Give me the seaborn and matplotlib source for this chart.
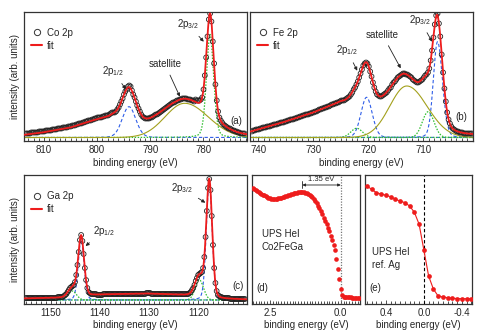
import matplotlib
matplotlib.use("Agg")
import matplotlib.pyplot as plt
from matplotlib.lines import Line2D
from matplotlib.ticker import MultipleLocator, FormatStrFormatter
import numpy as np
import seaborn as sns

RED = "#ee1c1c"
BLUE = "#2f5ee8"
GREEN = "#2fbf2f"
OLIVE = "#a3a01c"

# XPS spectra, 0.25 eV steps starting at the given binding energy
STEP = 0.25
CO_E0 = 772.2
co_i = [4, 4, 4, 4, 5, 5, 6, 6, 7, 7,
        8, 9, 9, 10, 11, 12, 13, 15, 17, 20,
        26, 37, 53, 74, 96, 116, 124, 118, 101, 80,
        62, 48, 40, 38, 37, 37, 37, 38, 36, 37,
        37, 38, 38, 38, 39, 39, 39, 39, 38, 38,
        37, 37, 36, 35, 35, 34, 33, 32, 31, 30,
        29, 28, 27, 26, 25, 24, 23, 23, 22, 21,
        20, 20, 19, 19, 19, 19, 20, 21, 23, 26,
        29, 32, 36, 40, 43, 47, 51, 52, 51, 48,
        46, 43, 39, 36, 33, 30, 28, 26, 25, 25,
        25, 24, 23, 22, 22, 22, 21, 21, 20, 20, 20, 20,
        19, 19, 18, 18, 17, 17, 17, 16, 16, 15, 15, 14, 14, 14, 13, 13, 12, 12, 12, 11,
        11, 11, 10, 10, 10, 10, 9, 9, 9, 9, 8, 8, 8, 8, 7, 7, 7, 7, 7, 6,
        6, 6, 6, 6, 5, 5, 5, 5, 5, 5, 4, 4, 4, 4]
FE_E0 = 701.15
fe_i = [4, 4, 4, 4, 4, 4, 4, 5, 5, 5, 6, 6, 7, 8, 9, 11, 14, 18, 25, 36, 49, 65, 83, 101,
        114, 124, 122, 113, 100, 87, 77, 69, 65, 63, 62, 60, 58, 57, 56, 55, 55, 56, 57, 58,
        60, 61, 62, 63, 63, 64, 64, 63, 62, 61, 60, 58, 56, 55, 53, 50, 49, 47, 45, 44, 43,
        42, 41, 41, 42, 43, 46, 50, 55, 61, 66, 71, 74, 75, 74, 72, 68, 64, 60, 56, 53, 50,
        48, 45, 43, 41, 40, 39, 38, 37, 37, 37, 36, 35, 35, 34, 34, 33, 33, 32, 31, 31, 30,
        30, 29, 29, 28, 28, 27, 26, 26, 25, 25, 24, 24, 23, 23, 23, 22, 22, 21, 21, 20, 20,
        19, 19, 18, 18, 18, 17, 17, 16, 16, 15, 15, 15, 14, 14, 13, 13, 13, 12, 12, 11, 11,
        11, 10, 10, 10, 9, 9, 8, 8, 8, 7, 7, 6]
GA_E0 = 1110.55
ga_i = [1, 1, 1, 1, 1, 1, 1, 1, 1, 1, 1, 1, 1, 2, 2, 2, 2, 2, 2, 3, 3, 4, 5, 9, 17, 32, 55,
        84, 110, 121, 112, 89, 63, 43, 32, 28, 27, 26, 25, 22, 19, 15, 12, 10, 8, 7, 6, 6,
        6, 6, 6, 6, 6, 6, 6, 6, 6, 6, 6, 6, 6, 6, 6, 6, 6, 6, 6, 6, 6, 6, 6, 6, 6, 6, 6, 6,
        6, 7, 7, 7, 7, 6, 6, 6, 6, 6, 6, 6, 6, 6, 6, 6, 6, 6, 6, 6, 6, 6, 6, 6, 6, 6, 6, 6,
        6, 6, 6, 6, 6, 6, 6, 6, 6, 6, 6, 6, 5, 5, 5, 5, 5, 6, 6, 6, 6, 6, 7, 8, 12, 20, 32,
        46, 59, 65, 60, 48, 35, 25, 18, 15, 14, 13, 12, 10, 8, 6, 5, 4, 3, 3, 3, 3, 3, 2, 2,
        2, 2, 2, 2, 2, 2, 2, 2, 2, 2, 2, 2, 2, 2, 2, 2, 2, 2, 2, 2, 2, 2, 2, 2]

# peak fit components: centre, fwhm (high BE side), fwhm (low BE side), height, lorentz share
co_center = [794.0, 778.7, 783.5]
co_fwhm_hi = [3.0, 1.6, 8.7]
co_fwhm_lo = [3.0, 1.6, 10.4]
co_height = [30.8, 103.0, 34.2]
co_eta = [0.1, 0.2, 0.0]
co_kind = ["blue", "green", "olive"]
co_bg_e = [814, 810, 805, 800, 797, 795.5, 794, 792.5, 791.3, 789, 787, 785, 783, 781, 779, 776, 772]
co_bg_v = [2.5, 5.2, 10.0, 18.3, 22.0, 19.5, 19.0, 15.5, 12.8, 10.8, 7.5, 4.5, 3.8, 3.0, 2.0, 2.5, 2.0]

fe_center = [707.4, 720.3, 709.1, 722.1, 713.0]
fe_fwhm_hi = [1.8, 2.4, 2.5, 2.5, 7.3]
fe_fwhm_lo = [2.1, 2.4, 2.5, 2.5, 8.7]
fe_height = [95.8, 40.2, 25.8, 9.2, 51.5]
fe_eta = [0.1, 0.1, 0.0, 0.0, 0.0]
fe_kind = ["blue", "blue", "green", "green", "olive"]
fe_bg_e = [742, 735, 730, 725, 722.5, 720.5, 718, 716, 713.6, 711, 709, 707, 705, 701]
fe_bg_v = [5.0, 16.0, 25.0, 36.0, 36.0, 30.0, 23.5, 17.0, 13.0, 5.0, 1.0, 3.0, 3.0, 3.0]

ga_center = [1117.8, 1143.8, 1119.8, 1145.6]
ga_fwhm_hi = [1.4, 1.4, 2.0, 2.0]
ga_fwhm_lo = [1.4, 1.4, 2.0, 2.0]
ga_height = [118.0, 60.0, 20.0, 9.0]
ga_eta = [0.15, 0.15, 0.0, 0.0]
ga_kind = ["blue", "blue", "green", "green"]
ga_bg_e = [1156, 1147, 1143.8, 1141, 1135, 1130, 1125, 1122, 1120, 1117, 1110]
ga_bg_v = [1.5, 2.5, 4.0, 5.0, 6.0, 6.5, 5.5, 5.0, 4.0, 1.5, 0.5]

# UPS valence band spectra
ups_e = [3.10, 3.05, 3.00, 2.95, 2.90, 2.85, 2.80, 2.75, 2.70, 2.65, 2.60, 2.55, 2.50, 2.45,
         2.40, 2.35, 2.30, 2.25, 2.20, 2.15, 2.10, 2.05, 2.00, 1.95, 1.90, 1.85, 1.80, 1.75,
         1.70, 1.65, 1.60, 1.55, 1.50, 1.45, 1.40, 1.35, 1.30, 1.25, 1.20, 1.15, 1.10, 1.05,
         1.00, 0.95, 0.90, 0.85, 0.80, 0.75, 0.70, 0.65, 0.60, 0.55, 0.50, 0.45, 0.40, 0.35,
         0.30, 0.25, 0.20, 0.15, 0.10, 0.05, 0.00, -0.05, -0.10, -0.15, -0.20, -0.25, -0.30,
         -0.35, -0.40, -0.45, -0.50, -0.55, -0.60, -0.65]
ups_i = [114.5, 113.5, 112.5, 111.5, 110.5, 109.7, 109.0, 108.2, 107.5, 106.7, 106.0, 105.2,
         104.5, 104.0, 103.7, 103.7, 104.0, 104.2, 104.5, 104.8, 105.0, 105.5, 106.0, 106.5,
         107.0, 107.5, 108.0, 108.5, 109.0, 109.5, 110.0, 110.4, 110.7, 111.0, 111.0, 111.0,
         110.7, 110.2, 109.7, 109.0, 108.0, 107.0, 105.5, 104.0, 102.0, 99.5, 97.0, 94.5,
         91.5, 88.5, 85.0, 82.0, 78.5, 75.0, 71.5, 67.5, 63.0, 58.0, 53.0, 44.0, 34.0, 24.0,
         14.0, 8.0, 6.5, 6.2, 6.0, 5.8, 5.7, 5.6, 5.5, 5.5, 5.4, 5.4, 5.3, 5.3]

ag_e = [0.60, 0.55, 0.50, 0.45, 0.40, 0.35, 0.30, 0.25, 0.20, 0.15, 0.10, 0.05, 0.00,
        -0.05, -0.10, -0.15, -0.20, -0.25, -0.30, -0.35, -0.40, -0.45, -0.50]
ag_i = [117.0, 113.7, 110.3, 109.0, 107.7, 106.3, 103.7, 102.0, 100.3, 97.0, 90.7, 78.7,
        53.0, 27.0, 14.0, 7.0, 6.0, 5.3, 4.7, 4.5, 4.3, 4.3, 4.3]

VB_SHIFT = 1.35

sns.set_theme(style="ticks")
plt.rcParams["font.family"] = ["Liberation Sans", "DejaVu Sans"]
plt.rcParams["axes.unicode_minus"] = False
plt.rcParams["mathtext.fontset"] = "custom"
plt.rcParams["mathtext.rm"] = "Liberation Sans"
plt.rcParams["mathtext.it"] = "Liberation Sans"

FS = 7
STYLE = {
    "blue": dict(color=BLUE, lw=0.8, linestyle=(0, (3, 2))),
    "green": dict(color=GREEN, lw=0.9, linestyle=(0, (1.2, 1.2))),
    "olive": dict(color=OLIVE, lw=0.8, linestyle="-"),
}


def peak(e, c, w_hi, w_lo, h, eta):
    w = np.where(e >= c, w_hi, w_lo)
    x = (e - c) / w
    return h * ((1 - eta) * np.exp(-4 * np.log(2) * x ** 2) + eta / (1 + 4 * x ** 2))


def model(e, comps, bg_e, bg_v):
    total = np.interp(e, bg_e[::-1], bg_v[::-1])
    for p in zip(*comps):
        total = total + peak(e, *p)
    return total


def style_axes(ax, major, minor, fmt):
    for s in ax.spines.values():
        s.set_color("#333333")
        s.set_linewidth(0.9)
    ax.set_yticks([])
    ax.xaxis.set_major_locator(MultipleLocator(major))
    ax.xaxis.set_minor_locator(MultipleLocator(minor))
    ax.xaxis.set_major_formatter(FormatStrFormatter(fmt))
    ax.tick_params(axis="x", which="both", direction="in", labelsize=FS, pad=3,
                   color="#333333", width=0.6)
    ax.tick_params(axis="x", which="major", length=3)
    ax.tick_params(axis="x", which="minor", length=2)
    ax.set_xlabel("binding energy (eV)", fontsize=FS, labelpad=2)


def draw_xps(ax, comps, kinds, bg_e, bg_v, e0, i_data, xlim, ylim, name):
    e_data = e0 + STEP * np.arange(len(i_data))
    e_fine = np.linspace(xlim[1], xlim[0], 1500)
    for p, kind in zip(zip(*comps), kinds):
        sns.lineplot(x=e_fine, y=peak(e_fine, *p), ax=ax, estimator=None, sort=False,
                     zorder=1, **STYLE[kind])
    sns.scatterplot(x=e_data, y=i_data, ax=ax, s=12, facecolors="none",
                    edgecolor="#222222", linewidth=0.6, zorder=2)
    sns.lineplot(x=e_fine, y=model(e_fine, comps, bg_e, bg_v), ax=ax, estimator=None,
                 sort=False, color=RED, lw=1.3, zorder=3)
    ax.set_xlim(*xlim)
    ax.set_ylim(*ylim)
    handles = [Line2D([], [], marker="o", ls="", mfc="none", mec="#333333", ms=4.5, mew=0.7),
               Line2D([], [], color=RED, lw=1.5)]
    ax.legend(handles, [name, "fit"], loc="upper left", bbox_to_anchor=(0.0, 0.93),
              frameon=False, fontsize=FS, handlelength=1.2, handletextpad=0.5,
              borderaxespad=0.3, labelspacing=0.3)


def label_arrow(ax, text, xy, xytext):
    ax.annotate(text, xy=xy, xytext=xytext, fontsize=FS, ha="center", va="center",
                arrowprops=dict(arrowstyle="-|>", color="#222222", lw=0.6,
                                mutation_scale=5, shrinkA=2, shrinkB=0))


fig = plt.figure(figsize=(4.98, 3.36), dpi=100)
ax_a = fig.add_axes([0.0482, 0.5804, 0.4472, 0.3839])
ax_b = fig.add_axes([0.5020, 0.5804, 0.4484, 0.3839])
ax_c = fig.add_axes([0.0482, 0.0967, 0.4472, 0.3810])
ax_d = fig.add_axes([0.5066, 0.0967, 0.2163, 0.3810])
ax_e = fig.add_axes([0.7329, 0.0967, 0.2155, 0.3810])

# (a) Co 2p
co = (co_center, co_fwhm_hi, co_fwhm_lo, co_height, co_eta)
draw_xps(ax_a, co, co_kind, co_bg_e, co_bg_v, CO_E0, co_i, (813.8, 771.8), (-3.5, 125.5), "Co 2p")
style_axes(ax_a, 10, 1, "%d")
ax_a.set_ylabel("intensity (arb. units)", fontsize=FS, labelpad=3)
label_arrow(ax_a, "2p$_{3/2}$", (779.9, 95.8), (782.9, 113.5))
label_arrow(ax_a, "2p$_{1/2}$", (794.6, 48.2), (797.0, 66.5))
label_arrow(ax_a, "satellite", (784.4, 40.8), (787.2, 73.2))
ax_a.text(773.7, 16.8, "(a)", fontsize=FS, ha="center", va="center")

# (b) Fe 2p
fe = (fe_center, fe_fwhm_hi, fe_fwhm_lo, fe_height, fe_eta)
draw_xps(ax_b, fe, fe_kind, fe_bg_e, fe_bg_v, FE_E0, fe_i, (741.5, 700.9), (-3.5, 125.5), "Fe 2p")
style_axes(ax_b, 10, 1, "%d")
label_arrow(ax_b, "2p$_{3/2}$", (708.4, 95.8), (710.6, 117.5))
label_arrow(ax_b, "2p$_{1/2}$", (722.0, 66.8), (723.9, 87.5))
label_arrow(ax_b, "satellite", (714.1, 69.2), (717.4, 102.5))
ax_b.text(703.0, 20.2, "(b)", fontsize=FS, ha="center", va="center")

# (c) Ga 2p
ga = (ga_center, ga_fwhm_hi, ga_fwhm_lo, ga_height, ga_eta)
draw_xps(ax_c, ga, ga_kind, ga_bg_e, ga_bg_v, GA_E0, ga_i, (1155.4, 1110.2), (-3.5, 124.5), "Ga 2p")
style_axes(ax_c, 10, 1, "%d")
ax_c.set_ylabel("intensity (arb. units)", fontsize=FS, labelpad=3)
label_arrow(ax_c, "2p$_{3/2}$", (1118.6, 97.3), (1123.4, 112.3))
label_arrow(ax_c, "2p$_{1/2}$", (1142.9, 54.0), (1139.2, 69.3))
ax_c.text(1112.0, 14.3, "(c)", fontsize=FS, ha="center", va="center")

# (d) Co2FeGa valence band
ax_d.axvline(0, color="#777777", lw=0.9, linestyle=(0, (1, 1.2)), zorder=1)
sns.scatterplot(x=ups_e, y=ups_i, ax=ax_d, color=RED, s=11, linewidth=0, zorder=3)
ax_d.set_xlim(3.12, -0.68)
ax_d.set_ylim(-0.5, 127.5)
style_axes(ax_d, 2.5, 0.1, "%.1f")
ax_d.annotate("", xy=(0.0, 118), xytext=(VB_SHIFT, 118),
              arrowprops=dict(arrowstyle="<|-|>", color="#222222", lw=0.6,
                              mutation_scale=4, shrinkA=0, shrinkB=0))
ax_d.plot([VB_SHIFT, VB_SHIFT], [115, 122], color="#222222", lw=0.6)
ax_d.text(0.70, 123, f"{VB_SHIFT:.2f} eV", fontsize=5.5, ha="center", va="center")
ax_d.text(2.79, 62.7, "UPS HeI\nCo2FeGa", fontsize=FS, ha="left", va="center", linespacing=1.3)
ax_d.text(2.97, 14.7, "(d)", fontsize=FS, ha="left", va="center")

# (e) Ag reference Fermi edge
ax_e.axvline(0, color="black", lw=0.8, linestyle=(0, (3, 2)), zorder=1)
sns.lineplot(x=ag_e, y=ag_i, ax=ax_e, color=RED, lw=0.8, estimator=None, sort=False,
             marker="o", markersize=3.4, markeredgewidth=0, zorder=3)
ax_e.set_xlim(0.62, -0.51)
ax_e.set_ylim(-0.5, 127.5)
style_axes(ax_e, 0.4, 0.05, "%.1f")
ax_e.text(0.55, 44.7, "UPS HeI\nref. Ag", fontsize=FS, ha="left", va="center", linespacing=1.3)
ax_e.text(0.57, 14.7, "(e)", fontsize=FS, ha="left", va="center")

fig.savefig("out.png", dpi=100)
